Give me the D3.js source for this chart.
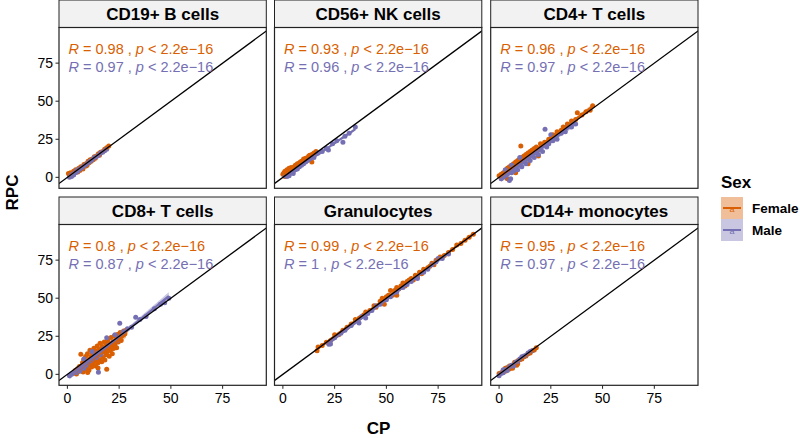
<!DOCTYPE html>
<html>
<head>
<meta charset="utf-8">
<style>
  body { margin: 0; background: #fff; }
  svg { font-family: 'Liberation Sans', Arial, Helvetica, sans-serif; }
  .strip-text { font-weight: bold; font-size: 17px; }
  .tick-label { font-size: 14px; fill: #000; }
  .axis-title { font-weight: bold; font-size: 17px; }
  .cor { font-size: 14.5px; }
</style>
</head>
<body>
<svg width="800" height="438"></svg>

<script src="https://d3js.org/d3.v7.min.js"></script>
<script>
// ---- data ----
const panelNames = ["CD19+ B cells", "CD56+ NK cells", "CD4+ T cells", "CD8+ T cells", "Granulocytes", "CD14+ monocytes"];
const sexes = ["Female", "Male"];
const xTicks = [0, 25, 50, 75];
const yTicks = [0, 25, 50, 75];
const rFemale = ["0.98", "0.93", "0.96", "0.8", "0.99", "0.95"];
const rMale = ["0.97", "0.96", "0.97", "0.87", "1", "0.97"];
const pText = "2.2e\u221216";

const femaleB = [[0.5,2.5],[1,1.5],[1.5,3],[2,2.5],[2.5,1.8],[3,4],[3.5,3],[4,5],[4.5,4],[5,3.5],[5.5,6],[6,5.2],[6.5,7],[7,6],[7.5,5.5],[8,8.5],[8.5,7.5],[9,9],[9.5,8],[10,10.5],[10.5,9.5],[11,11.5],[11.5,10.5],[12,12],[12.5,11.5],[13,13.5],[13.5,12.5],[14,14],[15,15.5],[15.5,14.5],[16,16.5],[17,17],[18,18.5],[19,19.5],[20,20.5],[3,2],[6,4.5],[9,7.5]];
const maleB = [[1,0],[1.5,1],[2,0.5],[2.5,2],[3,1.5],[3.5,3],[4,3],[4.5,4.5],[5,4],[6,5.5],[6.5,6],[7,6.5],[8,7.5],[9,8.5],[10,9.5],[11,10.5],[12,11.5],[13,13],[14,13.5],[15,14.5],[16,16],[17,16.5],[18,17.5],[19,18.5],[2,1.5],[5,5]];

const femaleNK = [[0,2],[0.5,3],[1,1.5],[1,4],[1.5,2.5],[2,3.5],[2,5],[2.5,2],[3,4.5],[3,6],[3.5,3.5],[4,5],[4,6.5],[4.5,4],[5,6],[5.5,7],[6,6],[6,8],[6.5,7.5],[7,9],[7.5,8],[8,9.5],[8.5,10],[9,10.5],[9.5,9],[10,12],[10.5,11],[11,12.5],[12,13],[12.5,14],[13,14.5],[14,10],[14,15],[15,16],[16,17],[1,0.5],[2,1]];
const maleNK = [[1,1],[2,0.5],[3,2],[4,3],[5,4],[6,5],[7,5.5],[8,7],[9,8],[10,9],[11,10],[12,11],[13,12],[15,13],[17,16],[19,17],[21,19],[22,18],[24,22],[26,24],[29,23],[30,27],[32,29],[35,33],[3,1],[5,2.5],[7,7]];

const femaleCD4 = [[0,1],[1,2],[1,0],[2,3],[2,1],[3,2.5],[3,4.5],[4,3],[4,6],[5,5],[5,7],[6,4],[6,8],[7,6],[7,9],[8,7],[8,10],[9,8],[9,11],[10,9],[10,12],[10.5,20.5],[11,10],[11,13],[12,11],[12,14],[13,12],[13,15],[14,13],[14,16],[15,14],[15,17],[16,15],[16,18],[17,16],[17,19],[18,17],[18,20],[19,18],[20,19],[20,22],[21,21],[22,23],[23,22],[24,25],[25,24],[26,28],[27,27],[28,30],[30,31],[31,33],[33,35],[35,37],[37,38],[37.8,42.4],[40,41],[42,43],[44,44],[45.2,47],[4,-1],[8,3],[14,9],[19,14]];
const maleCD4 = [[1,-1],[2,0],[3,1],[4,2],[5,-2],[5.6,-1],[6,3],[7,4],[8,6],[9,5],[10,8],[11,7],[12,10],[13,9],[14,12],[15,11],[16,14],[17,13],[18,16],[19,15],[20,19],[21,17],[22.2,31.5],[23,20],[24,22],[25,28],[26,24],[28,25],[30,29],[32,30],[33,33],[35,33],[37,35],[3,5],[6,8],[10,13]];

const femaleCD8 = [[3.2,0.8],[3.8,2.6],[4.4,0.2],[4.9,3.7],[5.3,1.9],[5.8,5.1],[6.2,2.8],[6.5,13.2],[6.9,4.4],[7.3,7.6],[7.6,1.6],[7.9,9.8],[8.3,5.7],[8.6,3.1],[8.8,11.7],[9.2,7.2],[9.5,4.8],[9.7,13.6],[10.1,9.1],[10.4,2.7],[10.6,6.3],[10.9,15.8],[11.2,11.3],[11.4,8.2],[11.7,4.9],[12.0,13.9],[12.2,10.4],[12.5,6.8],[12.8,17.1],[13.1,12.2],[13.3,8.9],[13.6,5.4],[13.9,15.3],[14.2,10.7],[14.4,18.6],[14.7,7.5],[15.0,13.4],[15.3,16.7],[15.5,9.6],[15.8,20.4],[16.1,12.6],[16.4,15.1],[16.6,8.3],[16.9,18.2],[17.2,11.1],[17.5,14.6],[17.8,21.3],[18.1,9.4],[18.3,16.4],[18.6,12.9],[18.9,19.7],[19.0,3.3],[19.3,14.8],[19.6,22.6],[19.9,17.3],[20.2,11.8],[20.5,20.1],[20.8,15.7],[21.1,24.2],[21.4,18.5],[21.7,13.6],[22.0,21.4],[22.3,16.9],[22.7,25.3],[23.0,19.6],[23.4,22.8],[23.8,17.4],[24.2,26.1],[24.6,21.2],[25.0,23.9],[25.5,27.4],[26.0,22.3],[26.6,25.8],[27.2,28.4],[27.8,26.6],[28.3,29.0],[9.8,1.2],[14.8,4.1]];
const maleCD8 = [[1,-1],[2,0],[3,1],[4,1],[5,3],[6,2],[7,5],[8,4],[9,6],[10,8],[11,9],[12,10],[13,12],[14,11],[15,1.3],[15,14],[16,13],[17,16],[18,17],[20,19],[22,21],[23,26],[24,22],[25.3,33.5],[27,28],[29,30],[31,31],[33,37.5],[35,36],[38,38],[42,43],[45,46],[47,47],[49,50],[8,10],[12,15],[19,24]];

const femaleGran = [[16.5,15.5],[17,18],[19,19],[21,21],[23,22],[25,26],[27,26],[29,29],[31,31],[33,33],[35,36],[37,37],[39,39],[40,41],[42,42],[44,45],[45,44],[47,48],[48,50],[50,51],[51,52],[52,55],[53,52],[54,55],[55,57],[56,56],[57,58],[58,60],[59,58],[60,61],[61,62],[62,63],[63,62],[64,65],[65,64],[66,67],[67,66],[68,69],[70,70],[71,71],[72,73],[73,72],[74,75],[76,77],[78,78],[80,80],[82,82],[84,85],[86,86],[88,88],[90,90],[92,92],[49,46],[55,52]];
const maleGran = [[22.2,19.8],[23,20],[25,24],[28,27],[30,29],[33,32],[36.8,33.7],[38,38],[40,37],[43,42],[45,45],[47,46],[50,49],[52,51],[55,54],[58,57],[60,59],[62,61],[65,63],[68,67],[70,69],[72,72],[74,74],[75,76],[77,76],[80,79],[41,40]];

const femaleMono = [[0,0.5],[1,1],[2,2.5],[3,2],[4,4.5],[5,3.5],[5,5.5],[6,5],[6.5,4],[7,6.5],[7.5,8],[8,7],[8.5,6],[9,9],[10,9.5],[11,10],[12,11.5],[13,12],[14,13.5],[15,14],[16,15.5],[17,16],[18,17.5],[3,4],[9,7]];
const maleMono = [[0,-1],[1,0.5],[2,1],[3,3],[4,2.5],[5,5],[6,6],[7,5.5],[8,8],[9,8.5],[10,10],[11,11.5],[12,12],[13,12.5],[14,14],[15,15],[16,15.5],[2,3]];

const femaleData = [femaleB, femaleNK, femaleCD4, femaleCD8, femaleGran, femaleMono];
const maleData = [maleB, maleNK, maleCD4, maleCD8, maleGran, maleMono];

// ---- layout ----
const colors = { Female: "#D95F02", Male: "#7570B3" };
const colX = [59, 274.5, 490.7];
const rowY = [0, 197];
const panelW = 207.3, stripH = 27.5, panelH = 160.8;

let svg = d3.select("svg");

let x = d3.scaleLinear().domain([-4.05, 96.1]).range([0, panelW]);
let y = d3.scaleLinear().domain([-7.2, 98.4]).range([panelH, 0]);

// simple least squares fit with confidence band
function fit(pts) {
    let n = pts.length;
    let mx = d3.mean(pts, d => d[0]), my = d3.mean(pts, d => d[1]);
    let sxx = d3.sum(pts, d => (d[0] - mx) ** 2);
    let sxy = d3.sum(pts, d => (d[0] - mx) * (d[1] - my));
    let b = sxy / sxx, a = my - b * mx;
    let s = Math.sqrt(d3.sum(pts, d => (d[1] - a - b * d[0]) ** 2) / (n - 2));
    let [x0, x1] = d3.extent(pts, d => d[0]);
    let band = d3.range(0, 41).map(i => {
        let xv = x0 + (x1 - x0) * i / 40;
        let yh = a + b * xv;
        let se = 2.02 * s * Math.sqrt(1 / n + (xv - mx) ** 2 / sxx);
        return { x: xv, y: yh, lo: yh - se, hi: yh + se };
    });
    return band;
}

panelNames.forEach((name, i) => {
    let col = i % 3, row = Math.floor(i / 3);
    let g = svg.append("g").attr("transform", `translate(${colX[col]},${rowY[row]})`);

    // strip
    g.append("rect")
        .attr("x", 0).attr("y", 0).attr("width", panelW).attr("height", stripH)
        .attr("fill", "#F2F2F2").attr("stroke", "#222").attr("stroke-width", 1);
    g.append("text")
        .attr("class", "strip-text")
        .attr("x", panelW / 2).attr("y", stripH / 2 + 6)
        .attr("text-anchor", "middle")
        .text(name);

    let p = g.append("g").attr("transform", `translate(0,${stripH})`);
    p.append("clipPath").attr("id", "clip" + i)
        .append("rect").attr("width", panelW).attr("height", panelH);

    let inner = p.append("g").attr("clip-path", `url(#clip${i})`);

    // points
    [[femaleData[i], "Female"], [maleData[i], "Male"]].forEach(([pts, sex]) => {
        inner.append("g").selectAll("circle")
            .data(pts)
            .join("circle")
            .attr("cx", d => x(d[0]))
            .attr("cy", d => y(d[1]))
            .attr("r", 2.5)
            .attr("fill", colors[sex]);
    });

    // regression lines + ribbons
    [[femaleData[i], "Female"], [maleData[i], "Male"]].forEach(([pts, sex]) => {
        let band = fit(pts);
        inner.append("path")
            .datum(band)
            .attr("d", d3.area().x(d => x(d.x)).y0(d => y(d.lo)).y1(d => y(d.hi)))
            .attr("fill", colors[sex]).attr("fill-opacity", 0.4);
        inner.append("path")
            .datum(band)
            .attr("d", d3.line().x(d => x(d.x)).y(d => y(d.y)))
            .attr("fill", "none").attr("stroke", colors[sex]).attr("stroke-width", 2.2);
    });

    // identity line
    inner.append("line")
        .attr("x1", x(-10)).attr("y1", y(-10))
        .attr("x2", x(110)).attr("y2", y(110))
        .attr("stroke", "black").attr("stroke-width", 1.3);

    // correlation labels
    [[rFemale[i], "Female", 26.5], [rMale[i], "Male", 44.8]].forEach(([r, sex, by]) => {
        let t = p.append("text").attr("class", "cor")
            .attr("x", 9.5).attr("y", by).attr("fill", colors[sex]);
        t.append("tspan").attr("font-style", "italic").text("R");
        t.append("tspan").text(" = " + r + " , ");
        t.append("tspan").attr("font-style", "italic").text("p");
        t.append("tspan").text(" < " + pText);
    });

    // border
    p.append("rect")
        .attr("width", panelW).attr("height", panelH)
        .attr("fill", "none").attr("stroke", "#222").attr("stroke-width", 1.2);

    // y axis on first column
    if (col === 0) {
        let ya = p.append("g");
        ya.selectAll("line").data(yTicks).join("line")
            .attr("x1", -3.5).attr("x2", 0)
            .attr("y1", d => y(d)).attr("y2", d => y(d))
            .attr("stroke", "#222");
        ya.selectAll("text").data(yTicks).join("text")
            .attr("class", "tick-label")
            .attr("x", -6).attr("y", d => y(d) + 5)
            .attr("text-anchor", "end")
            .text(d => d);
    }
    // x axis on bottom row
    if (row === 1) {
        let xa = p.append("g").attr("transform", `translate(0,${panelH})`);
        xa.selectAll("line").data(xTicks).join("line")
            .attr("x1", d => x(d)).attr("x2", d => x(d))
            .attr("y1", 0).attr("y2", 3.5)
            .attr("stroke", "#222");
        xa.selectAll("text").data(xTicks).join("text")
            .attr("class", "tick-label")
            .attr("x", d => x(d)).attr("y", 18)
            .attr("text-anchor", "middle")
            .text(d => d);
    }
});

// axis titles
svg.append("text").attr("class", "axis-title")
    .attr("transform", "translate(18,192.5) rotate(-90)")
    .attr("text-anchor", "middle")
    .text("RPC");
svg.append("text").attr("class", "axis-title")
    .attr("x", 378.5).attr("y", 434)
    .attr("text-anchor", "middle")
    .text("CP");

// legend
let leg = svg.append("g").attr("transform", "translate(721,0)");
leg.append("text").attr("class", "axis-title")
    .attr("x", 0).attr("y", 188)
    .text("Sex");
sexes.forEach((sex, k) => {
    let ky = 197 + k * 22;
    leg.append("rect")
        .attr("x", 0).attr("y", ky).attr("width", 22).attr("height", 22)
        .attr("fill", colors[sex]).attr("fill-opacity", 0.4);
    leg.append("line")
        .attr("x1", 2).attr("x2", 20).attr("y1", ky + 11).attr("y2", ky + 11)
        .attr("stroke", colors[sex]).attr("stroke-width", 2);
    leg.append("text")
        .attr("x", 11).attr("y", ky + 14.5)
        .attr("text-anchor", "middle")
        .attr("font-size", 9).attr("fill", colors[sex])
        .text("a");
    leg.append("text")
        .attr("x", 31).attr("y", ky + 15.5)
        .attr("font-size", 13.5).attr("font-weight", "bold")
        .text(sex);
});
</script>
</body>
</html>
